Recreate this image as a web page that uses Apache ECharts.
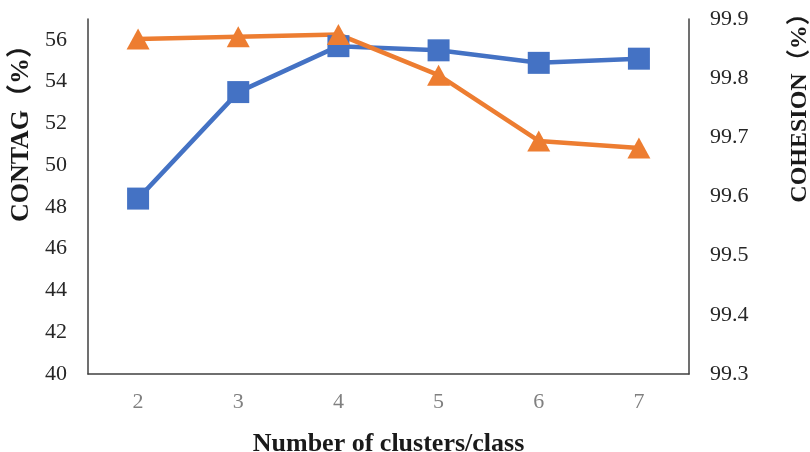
<!DOCTYPE html>
<html>
<head>
<meta charset="utf-8">
<script src="https://cdn.jsdelivr.net/npm/echarts@6/dist/echarts.min.js"></script>
<style>html,body{margin:0;padding:0;background:#fff;}#c{width:810px;height:452px;}</style>
</head>
<body>
<div id="c"></div>
<script>
const categories = ['2', '3', '4', '5', '6', '7'];
const contag = [48.4, 53.5, 55.7, 55.5, 54.9, 55.1];
const cohesion = [99.866, 99.870, 99.874, 99.805, 99.694, 99.682];
const leftTicks = [40, 42, 44, 46, 48, 50, 52, 54, 56];
const rightTicks = [99.3, 99.4, 99.5, 99.6, 99.7, 99.8, 99.9];

const serif = '"Liberation Serif", "Times New Roman", "Noto Sans CJK SC", serif';
const chart = echarts.init(document.getElementById('c'));
chart.setOption({
  animation: false,
  backgroundColor: '#fff',
  grid: { left: 88, right: 121, top: 19, bottom: 78, containLabel: false, outerBoundsMode: 'none' },
  xAxis: {
    type: 'category',
    data: categories,
    boundaryGap: true,
    axisLine: { lineStyle: { color: '#404040', width: 1.5 } },
    axisTick: { show: false },
    axisLabel: { color: '#808080', fontFamily: serif, fontSize: 22, margin: 17 },
    name: 'Number of clusters/class',
    nameLocation: 'middle',
    nameGap: 57,
    nameTextStyle: { color: '#1a1a1a', fontFamily: serif, fontSize: 26, fontWeight: 'bold' }
  },
  yAxis: [
    {
      type: 'value',
      min: leftTicks[0],
      max: 57,
      interval: 2,
      position: 'left',
      splitLine: { show: false },
      axisLine: { show: true, lineStyle: { color: '#404040', width: 1.5 } },
      axisTick: { show: false },
      axisLabel: { color: '#262626', fontFamily: serif, fontSize: 22, margin: 21, showMaxLabel: false },
      name: 'CONTAG（%）',
      nameLocation: 'middle',
      nameRotate: 90,
      nameGap: 51,
      nameTextStyle: { color: '#1a1a1a', fontFamily: serif, fontSize: 26, fontWeight: 'bold', padding: [0, 0, 0, 139] }
    },
    {
      type: 'value',
      min: rightTicks[0],
      max: rightTicks[rightTicks.length - 1],
      interval: 0.1,
      position: 'right',
      splitLine: { show: false },
      axisLine: { show: true, lineStyle: { color: '#404040', width: 1.5 } },
      axisTick: { show: false },
      axisLabel: { color: '#262626', fontFamily: serif, fontSize: 22, margin: 21, formatter: v => v.toFixed(1) },
      name: 'COHESION（%）',
      nameLocation: 'middle',
      nameRotate: 90,
      nameGap: 99,
      nameTextStyle: { color: '#1a1a1a', fontFamily: serif, fontSize: 24, fontWeight: 'bold', padding: [0, 0, 0, 189] }
    }
  ],
  series: [
    {
      name: 'CONTAG',
      type: 'line',
      yAxisIndex: 0,
      data: contag,
      symbol: 'rect',
      symbolSize: 22,
      itemStyle: { color: '#4472C4' },
      lineStyle: { color: '#4472C4', width: 4.5 }
    },
    {
      name: 'COHESION',
      type: 'line',
      yAxisIndex: 1,
      data: cohesion,
      symbol: 'triangle',
      symbolSize: [23, 21],
      itemStyle: { color: '#ED7D31' },
      lineStyle: { color: '#ED7D31', width: 4.5 }
    }
  ]
});
</script>
</body>
</html>
